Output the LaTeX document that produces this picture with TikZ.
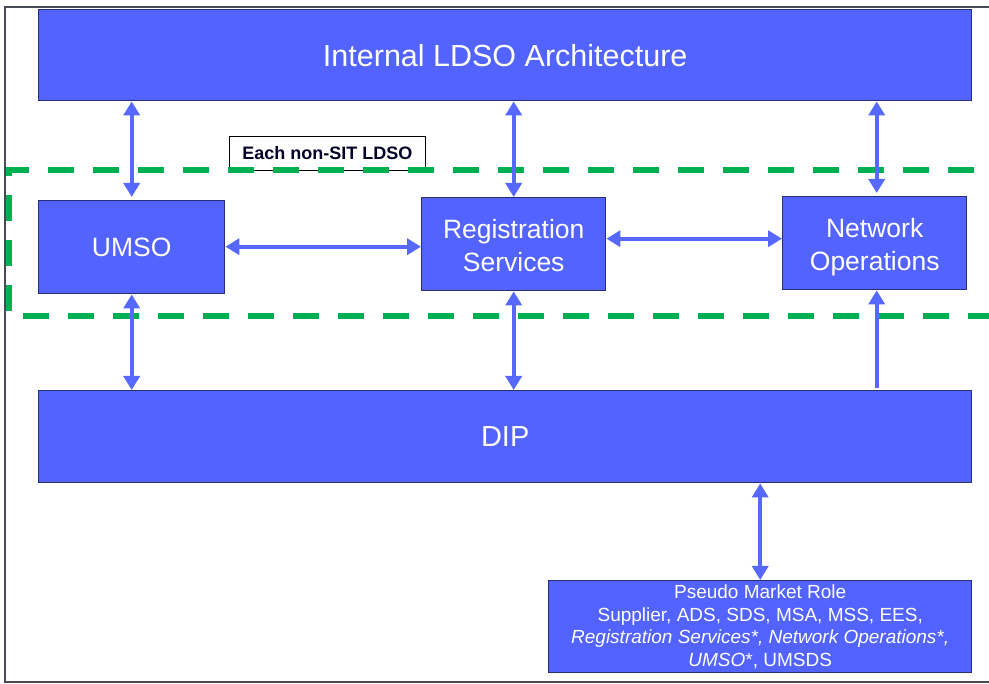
\documentclass[tikz,border=0pt]{standalone}
\usepackage{fontspec}
\setmainfont{Liberation Sans}
\usetikzlibrary{arrows.meta,calc}
\definecolor{boxfill}{RGB}{82,99,255}
\definecolor{boxline}{RGB}{40,46,120}
\definecolor{arrblue}{RGB}{86,104,255}
\definecolor{dashgreen}{RGB}{0,176,80}
\definecolor{framegray}{RGB}{70,75,85}
\newcommand{\tallstrut}{\rule{0pt}{31pt}}
\begin{document}
\begin{tikzpicture}[x=1pt,y=-1pt,
  bluebox/.style={draw=boxline, line width=1.4pt, fill=boxfill, text=white,
    anchor=north west, inner sep=0pt, align=center},
  conn/.style={draw=arrblue, line width=4pt,
    arrows={Triangle[length=14pt,width=16pt]-Triangle[length=14pt,width=16pt]}},
  oneway/.style={draw=arrblue, line width=4pt,
    arrows={-Triangle[length=14pt,width=16pt]}},
  grp/.style={draw=dashgreen, line width=5.5pt, dash pattern=on 26pt off 19pt, dash phase=9pt},
  tag/.style={draw=black, line width=0.8pt, fill=white, anchor=north west,
    inner sep=0pt, font=\bfseries\fontsize{18}{20}\selectfont, text=black!85!blue}
]
\useasboundingbox (0,0) rectangle (989,684);
\begin{scope}
\clip (0,0) rectangle (989,684);
% outer frame
\draw[framegray, line width=1.3pt] (995,7) -- (5,7) -- (5,682) -- (995,682);

% label box
\node[tag, minimum width=196pt, minimum height=34pt] (lbl) at (229,136) {Each non-SIT LDSO};

% green dashed group
\draw[grp] (1010,170) -- (9,170) -- (9,316) -- (1010,316);

% boxes
\node[bluebox, minimum width=933pt, minimum height=91pt,
  font=\fontsize{30.5}{36}\selectfont] (top) at (38,9) {Internal LDSO Architecture};
\node[bluebox, minimum width=186pt, minimum height=93pt,
  font=\fontsize{26.5}{33}\selectfont] (umso) at (38,200) {UMSO};
\node[bluebox, minimum width=184pt, minimum height=93pt,
  font=\fontsize{26.5}{33}\selectfont] (rs) at (421,197) {\tallstrut Registration\\Services\strut};
\node[bluebox, minimum width=184pt, minimum height=93pt,
  font=\fontsize{26.5}{33}\selectfont] (no) at (782,196) {\tallstrut Network\\Operations\strut};
\node[bluebox, minimum width=933pt, minimum height=92pt,
  font=\fontsize{29}{34}\selectfont] (dip) at (38,390) {DIP};
\node[bluebox, minimum width=423pt, minimum height=92pt,
  font=\fontsize{19}{22.5}\selectfont] (pmr) at (548,580)
  {Pseudo Market Role\\Supplier, ADS, SDS, MSA, MSS, EES,\\
   \textit{Registration Services*, Network Operations*,}\\
   \textit{UMSO}*, UMSDS};

% connectors
\draw[conn, shorten >=3pt] (umso.north |- top.south) -- (umso.north);
\draw[conn] (rs.north |- top.south) -- (rs.north);
\draw[conn, shorten >=3pt] ([xshift=2pt]no.north |- top.south) -- ([xshift=2pt]no.north);
\draw[conn] ([yshift=0.5pt]umso.east) -- ([yshift=0.5pt]umso.east -| rs.west);
\draw[conn] ([yshift=5.5pt]rs.east) -- ([yshift=5.5pt]rs.east -| no.west);
\draw[conn] (umso.south) -- (umso.south |- dip.north);
\draw[conn] (rs.south) -- (rs.south |- dip.north);
\draw[oneway, shorten <=2pt] ([xshift=2pt]no.south |- dip.north) -- ([xshift=2pt]no.south);
\draw[conn] (pmr.north |- dip.south) -- (pmr.north);
\end{scope}
\end{tikzpicture}
\end{document}
